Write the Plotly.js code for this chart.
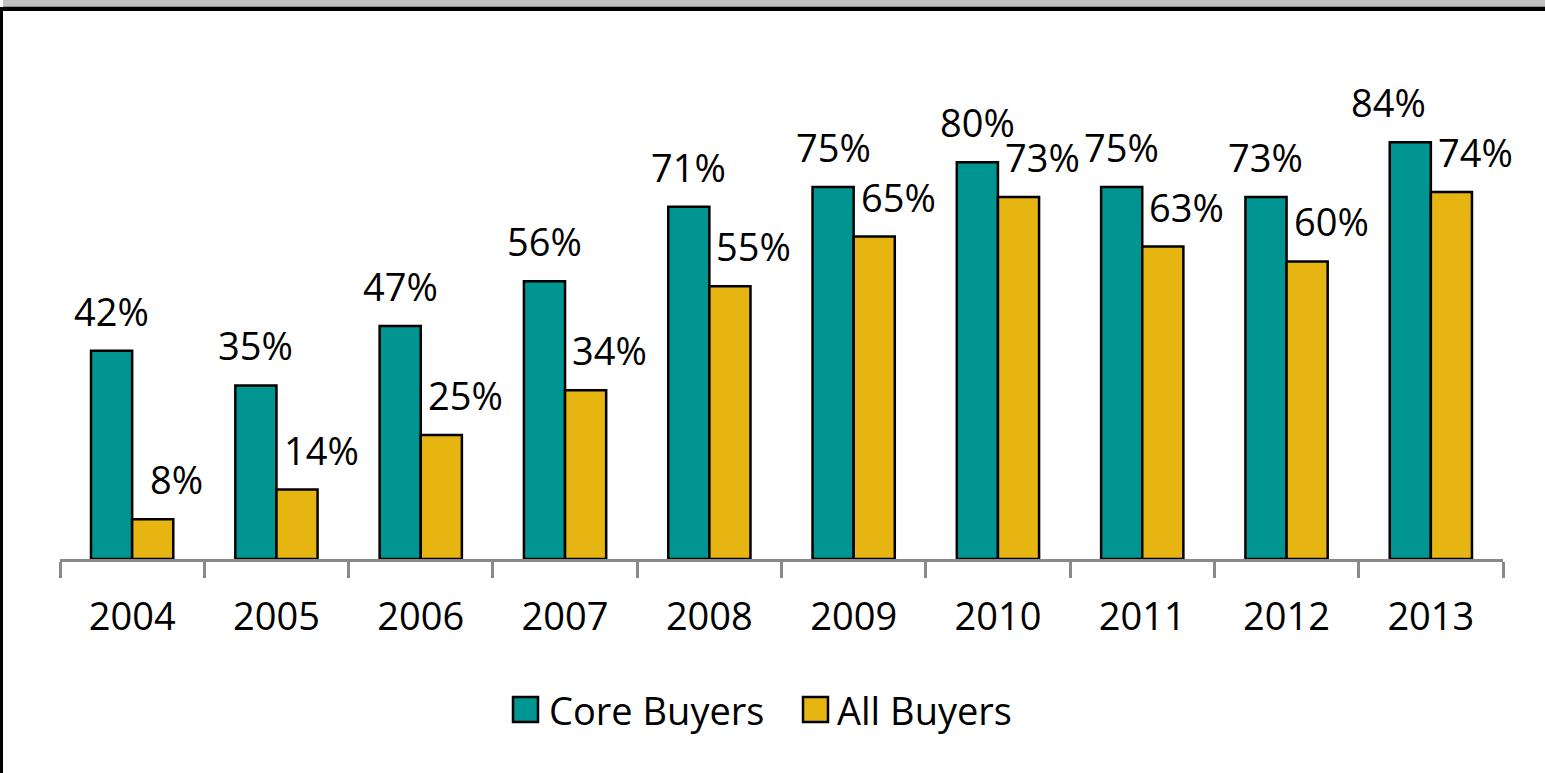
<!DOCTYPE html>
<html>
<head>
<meta charset="utf-8">
<script src="https://cdn.plot.ly/plotly-3.0.1.min.js"></script>
<style>
  html, body { margin: 0; padding: 0; background: #fff; }
  #chart { width: 1545px; height: 773px; position: absolute; left: 0; top: 0; }
  .bar-top-band { position: absolute; left: 3px; top: 0; width: 1542px; height: 6px; background: #c0c0c0; }
  .bar-top-line { position: absolute; left: 3px; top: 6px; width: 1542px; height: 1px; background: #8c8c8c; }
  .bar-top-black { position: absolute; left: 0; top: 7px; width: 1545px; height: 4px; background: #000; }
  .bar-left-black { position: absolute; left: 0; top: 7px; width: 3px; height: 766px; background: #000; }
</style>
</head>
<body>
<div id="chart"></div>
<div class="bar-top-band"></div>
<div class="bar-top-line"></div>
<div class="bar-top-black"></div>
<div class="bar-left-black"></div>
<script>
const years = ['2004','2005','2006','2007','2008','2009','2010','2011','2012','2013'];
const seriesNames = ['Core Buyers', 'All Buyers'];
const coreBuyers = [42, 35, 47, 56, 71, 75, 80, 75, 73, 84];
const allBuyers = [8, 14, 25, 34, 55, 65, 73, 63, 60, 74];
const colors = ['#009590', '#E7B511'];

const W = 1545, H = 773;
const M = { l: 60, r: 42, t: 63, b: 214 };
const PW = W - M.l - M.r, PH = H - M.t - M.b;
const px = x => (x - M.l) / PW;
const py = y => (M.t + PH - y) / PH;

const FONT = 'Open Sans, sans-serif';
const FS = 38;
const bargap = 0.43;
const barOffset = (1 - bargap) / 4; // centre offset of each bar in category units

const traces = [coreBuyers, allBuyers].map((vals, i) => ({
  type: 'bar',
  name: seriesNames[i],
  x: years,
  y: vals,
  marker: { color: colors[i], line: { color: '#000', width: 2.5 } },
  hoverinfo: 'x+y+name'
}));

const annotations = [];
[coreBuyers, allBuyers].forEach((vals, s) => {
  vals.forEach((v, i) => {
    annotations.push({
      xref: 'x', yref: 'y',
      x: i + (s === 0 ? -barOffset : barOffset),
      y: v,
      text: v + '%',
      showarrow: false,
      xanchor: 'center', yanchor: 'middle',
      xshift: s === 0 ? (i === years.length - 1 ? -22 : 0) : 24,
      yshift: 40,
      font: { family: FONT, size: FS, color: '#000' }
    });
  });
});

// custom legend (large swatches like the original)
const shapes = [];
const legendItems = [
  { box: 513, text: 547 },
  { box: 803, text: 835 }
];
legendItems.forEach((it, i) => {
  shapes.push({
    type: 'rect', xref: 'paper', yref: 'paper',
    x0: px(it.box), x1: px(it.box + 25), y0: py(722), y1: py(697),
    fillcolor: colors[i], line: { color: '#000', width: 2.5 }
  });
  annotations.push({
    xref: 'paper', yref: 'paper', x: px(it.text), y: py(710),
    xanchor: 'left', yanchor: 'middle', showarrow: false,
    text: seriesNames[i],
    font: { family: FONT, size: FS, color: '#000' }
  });
});

const layout = {
  width: W, height: H,
  margin: M,
  paper_bgcolor: '#fff', plot_bgcolor: '#fff',
  barmode: 'group',
  bargap: bargap, bargroupgap: 0,
  showlegend: false,
  xaxis: {
    type: 'category',
    range: [-0.5, years.length - 0.5], autorange: false,
    showline: true, linecolor: '#898989', linewidth: 3,
    ticks: 'outside', tickson: 'boundaries', ticklen: 16, tickwidth: 3, tickcolor: '#898989',
    ticklabelstandoff: 22,
    tickfont: { family: FONT, size: FS, color: '#000' },
    showgrid: false, zeroline: false, fixedrange: true
  },
  yaxis: {
    range: [0, 100], autorange: false, visible: false, showgrid: false, zeroline: false, fixedrange: true
  },
  annotations: annotations,
  shapes: shapes
};

Plotly.newPlot('chart', traces, layout, { displayModeBar: false, staticPlot: true });
</script>
</body>
</html>
